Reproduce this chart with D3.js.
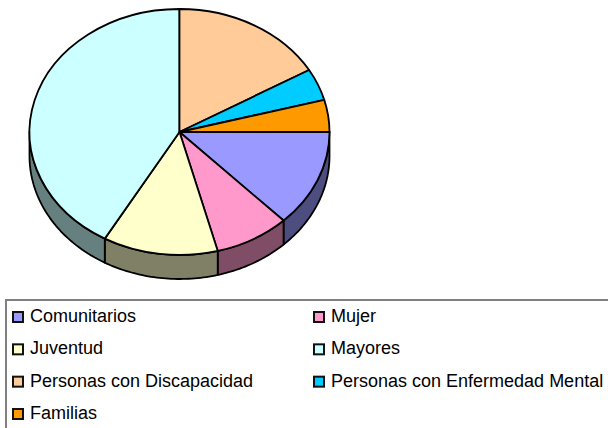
<!DOCTYPE html>
<html>
<head>
<meta charset="utf-8">
<script src="https://cdn.jsdelivr.net/npm/d3@7"></script>
<style>
html, body { margin: 0; padding: 0; background: #fff; overflow: hidden; }
svg { display: block; }
text { font-family: "Liberation Sans", Arial, sans-serif; font-size: 18px; fill: #000; }
</style>
</head>
<body>
<svg id="chart" width="608" height="428"></svg>
<script>
//Data (share of the pie, in percent)
const categories = ["Comunitarios", "Mujer", "Juventud", "Mayores", "Personas con Discapacidad", "Personas con Enfermedad Mental", "Familias"];
const values = [12.8, 8.1, 12.4, 41.7, 16.6, 4.2, 4.2];
const colors = ["#9999ff", "#ff99cc", "#ffffcc", "#ccffff", "#ffcc99", "#00ccff", "#ff9900"];
const sideColors = ["#4d4d80", "#804d66", "#808066", "#668080", "#806650", "#006680", "#804d00"];

const svg = d3.select("#chart");

//Pie geometry
const cx = 179.5, cy = 132, rx = 150, ry = 123, depth = 24;

//Pie starts at 3 o'clock and goes clockwise
const pie = d3.pie().sort(null).value(d => d).startAngle(Math.PI / 2).endAngle(Math.PI * 2.5);
const slices = pie(values);

//Unit circle arc, scaled to an ellipse with the transform
const arc = d3.arc().innerRadius(0).outerRadius(1);
const px = a => cx + rx * Math.sin(a);
const py = a => cy - ry * Math.cos(a);

//Draw the side wall first, only the front half can be seen
const front = svg.append("g").attr("stroke", "#000").attr("stroke-width", 1.8).attr("stroke-linejoin", "round");
slices.forEach((s, i) => {
    let a0 = Math.max(s.startAngle, Math.PI / 2);
    let a1 = Math.min(s.endAngle, Math.PI * 1.5);
    if (a1 <= a0) return;
    let angles = d3.range(0, 41).map(k => a0 + (a1 - a0) * k / 40);
    let pts = angles.map(a => [px(a), py(a)])
        .concat(angles.slice().reverse().map(a => [px(a), py(a) + depth]));
    front.append("path")
        .attr("d", d3.line()(pts) + "Z")
        .attr("fill", sideColors[i]);
});

//Top of the pie
svg.append("g")
    .attr("transform", `translate(${cx},${cy}) scale(${rx},${ry})`)
    .selectAll("path")
    .data(slices)
    .enter().append("path")
    .attr("d", arc)
    .attr("fill", (d, i) => colors[i])
    .attr("stroke", "#000")
    .attr("stroke-width", 1.8)
    .attr("stroke-linejoin", "round")
    .attr("vector-effect", "non-scaling-stroke");

//Legend box runs off the right and bottom of the picture
svg.append("rect")
    .attr("x", 6).attr("y", 300)
    .attr("width", 640).attr("height", 160)
    .attr("fill", "#fff")
    .attr("stroke", "#808080")
    .attr("stroke-width", 2);

const colX = d3.scaleOrdinal().domain([0, 1]).range([13, 314]);
const rowY = d3.scalePoint().domain([0, 1, 2, 3]).range([317, 414]);

const item = svg.append("g")
    .selectAll("g")
    .data(categories)
    .enter().append("g")
    .attr("transform", (d, i) => `translate(${colX(i % 2)},${rowY(Math.floor(i / 2))})`);

item.append("rect")
    .attr("x", 0).attr("y", -5)
    .attr("width", 10).attr("height", 10)
    .attr("fill", (d, i) => colors[i])
    .attr("stroke", "#111")
    .attr("stroke-width", 2);

item.append("text")
    .attr("x", 17)
    .attr("y", 5)
    .text(d => d);
</script>
</body>
</html>
